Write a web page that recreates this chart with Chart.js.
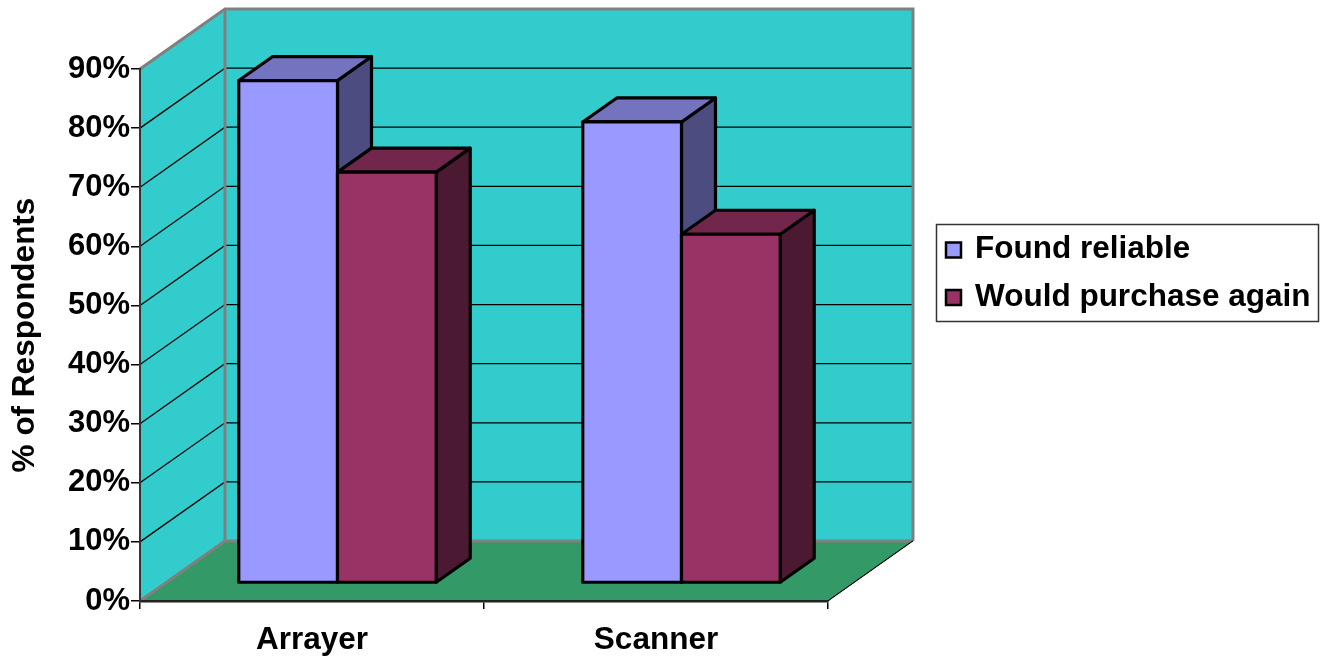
<!DOCTYPE html>
<html>
<head>
<meta charset="utf-8">
<title>% of Respondents</title>
<script src="https://cdn.jsdelivr.net/npm/chart.js@4.4.1/dist/chart.umd.min.js"></script>
<style>
  html, body { margin: 0; padding: 0; background: #fff; }
  #wrap { width: 1325px; height: 661px; position: relative; }
</style>
</head>
<body>
<div id="wrap"><canvas id="chart"></canvas></div>
<script>
// survey results, percent of respondents
const categories = ['Arrayer', 'Scanner'];
const seriesNames = ['Found reliable', 'Would purchase again'];
const foundReliable = [85, 78];
const wouldPurchase = [69.5, 59];
const yTickValues = [0, 10, 20, 30, 40, 50, 60, 70, 80, 90];

const FONT = '"Liberation Sans", Arial, sans-serif';

// depth of the 3D box (back wall offset from the front plane)
const DX = 85, DY = -60;
// bars sit between these depth fractions
const BAR_FRONT = 0.3, BAR_BACK = 0.7;

function path(ctx, pts) {
  ctx.beginPath();
  ctx.moveTo(pts[0][0], pts[0][1]);
  for (let i = 1; i < pts.length; i++) ctx.lineTo(pts[i][0], pts[i][1]);
}

function face(ctx, pts, color) {
  path(ctx, pts);
  ctx.closePath();
  ctx.fillStyle = color;
  ctx.fill();
  ctx.stroke();
}

// walls, floor and gridlines
const wallsPlugin = {
  id: 'walls',
  beforeDraw(chart) {
    const { ctx, chartArea: a, scales: { y } } = chart;
    const top = y.getPixelForValue(y.max);
    const bottom = y.getPixelForValue(y.min);
    const L = a.left, R = a.right;
    ctx.save();

    ctx.fillStyle = '#33cccc';
    ctx.fillRect(L + DX, top + DY, R - L, bottom - top);
    path(ctx, [[L, top], [L + DX, top + DY], [L + DX, bottom + DY], [L, bottom]]);
    ctx.closePath();
    ctx.fill();

    ctx.fillStyle = '#339966';
    path(ctx, [[L, bottom], [R, bottom], [R + DX, bottom + DY], [L + DX, bottom + DY]]);
    ctx.closePath();
    ctx.fill();

    ctx.strokeStyle = '#000';
    ctx.lineWidth = 1.3;
    y.ticks.forEach(t => {
      if (t.value === y.min || t.value === y.max) return;
      const py = y.getPixelForValue(t.value);
      path(ctx, [[L, py], [L + DX, py + DY], [R + DX, py + DY]]);
      ctx.stroke();
    });

    ctx.strokeStyle = '#808080';
    ctx.lineWidth = 3;
    ctx.lineJoin = 'miter';
    path(ctx, [[L, top], [L + DX, top + DY], [R + DX, top + DY], [R + DX, bottom + DY]]);
    ctx.stroke();
    path(ctx, [[L + DX, top + DY], [L + DX, bottom + DY]]);
    ctx.stroke();
    path(ctx, [[L, bottom], [L + DX, bottom + DY], [R + DX, bottom + DY]]);
    ctx.stroke();

    // outer floor edge
    ctx.strokeStyle = '#000';
    ctx.lineWidth = 1.5;
    path(ctx, [[R, bottom], [R + DX, bottom + DY]]);
    ctx.stroke();
    ctx.strokeStyle = '#fff';
    ctx.lineWidth = 1;
    path(ctx, [[R + 1.5, bottom], [R + DX + 1.5, bottom + DY]]);
    ctx.stroke();
    ctx.restore();
  }
};

// extruded bars, drawn left to right so each hides its neighbour's side
const barsPlugin = {
  id: 'bars3d',
  beforeDatasetsDraw(chart) {
    const ctx = chart.ctx;
    const fx = DX * BAR_FRONT, fy = DY * BAR_FRONT;
    const bx = DX * (BAR_BACK - BAR_FRONT), by = DY * (BAR_BACK - BAR_FRONT);
    ctx.save();
    ctx.strokeStyle = '#000';
    ctx.lineWidth = 3.2;
    ctx.lineJoin = 'round';
    categories.forEach((c, i) => {
      chart.data.datasets.forEach((ds, d) => {
        const bar = chart.getDatasetMeta(d).data[i];
        const x0 = bar.x - bar.width / 2 + fx, x1 = bar.x + bar.width / 2 + fx;
        const yt = bar.y + fy, yb = bar.base + fy;
        face(ctx, [[x1, yt], [x1 + bx, yt + by], [x1 + bx, yb + by], [x1, yb]], ds.sideColor);
        face(ctx, [[x0, yt], [x1, yt], [x1 + bx, yt + by], [x0 + bx, yt + by]], ds.topColor);
        face(ctx, [[x0, yt], [x1, yt], [x1, yb], [x0, yb]], ds.backgroundColor);
      });
    });
    ctx.restore();
    return false;
  }
};

// boxed legend to the right of the plot
const boxLegend = {
  id: 'boxLegend',
  afterDraw(chart) {
    const ctx = chart.ctx;
    ctx.save();
    ctx.strokeStyle = '#333';
    ctx.lineWidth = 1.5;
    ctx.strokeRect(936.5, 224.5, 382, 97);
    ctx.font = 'bold 31.5px ' + FONT;
    ctx.textBaseline = 'alphabetic';
    chart.data.datasets.forEach((ds, d) => {
      const cy = 250 + d * 47.5;
      ctx.fillStyle = ds.backgroundColor;
      ctx.lineWidth = 2.5;
      ctx.strokeStyle = '#000';
      ctx.fillRect(946, cy - 7.5, 15, 15);
      ctx.strokeRect(946, cy - 7.5, 15, 15);
      ctx.fillStyle = '#000';
      ctx.fillText(ds.label, 975, cy + 8);
    });
    ctx.restore();
  }
};

new Chart(document.getElementById('chart'), {
  type: 'bar',
  data: {
    labels: categories,
    datasets: [
      {
        label: seriesNames[0],
        data: foundReliable,
        backgroundColor: '#9999ff',
        topColor: '#7373bf',
        sideColor: '#4c4c80'
      },
      {
        label: seriesNames[1],
        data: wouldPurchase,
        backgroundColor: '#993366',
        topColor: '#73264c',
        sideColor: '#4c1933'
      }
    ]
  },
  options: {
    responsive: true,
    maintainAspectRatio: false,
    animation: false,
    layout: { padding: { left: 4, right: 497, top: 69, bottom: 0 } },
    categoryPercentage: 0.574,
    barPercentage: 1,
    plugins: {
      legend: { display: false },
      tooltip: { enabled: false }
    },
    scales: {
      x: {
        offset: true,
        grid: { display: true, drawOnChartArea: false, tickLength: 8, color: '#000', lineWidth: 1.5 },
        border: { display: true, color: '#222', width: 2.5 },
        ticks: { color: '#000', padding: 12, font: { family: FONT, size: 31.5, weight: 'bold' } },
        afterFit(scale) { scale.height = 60; }
      },
      y: {
        min: yTickValues[0],
        max: yTickValues[yTickValues.length - 1],
        grid: { display: true, drawOnChartArea: false, tickLength: 9, color: '#000', lineWidth: 1.5 },
        border: { display: true, color: '#333', width: 2 },
        ticks: {
          stepSize: yTickValues[1] - yTickValues[0],
          color: '#000',
          padding: 1,
          font: { family: FONT, size: 31, weight: 'bold' },
          callback: v => v + '%'
        },
        title: {
          display: true,
          text: '% of Respondents',
          color: '#000',
          padding: { top: 2, bottom: 4 },
          font: { family: FONT, size: 31.5, weight: 'bold' }
        },
        afterFit(scale) { scale.width = 136; }
      }
    }
  },
  plugins: [wallsPlugin, barsPlugin, boxLegend]
});
</script>
</body>
</html>
